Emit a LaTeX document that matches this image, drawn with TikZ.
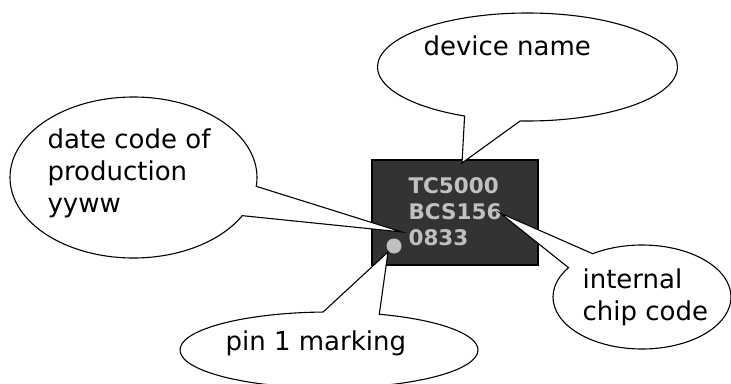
\documentclass[tikz,border=0pt]{standalone}
\usepackage{fontspec}
\setmainfont{DejaVu Sans}
\usetikzlibrary{shapes.callouts,positioning}

\definecolor{chipgray}{HTML}{333333}
\definecolor{markgray}{HTML}{C0C0C0}

\begin{document}
\begin{tikzpicture}[x=1pt, y=-1pt, line width=1.1pt,
    every node/.style={inner sep=0pt},
    bubble/.style={ellipse callout, draw, fill=white, callout pointer arc=22},
    bubbletext/.style={anchor=base west, font=\fontsize{26}{32}\selectfont, align=left},
    marking/.style={anchor=base west, text=markgray, font=\fontsize{21.5}{25.5}\selectfont\bfseries}]
    \useasboundingbox (0,0) rectangle (731,383);
    % chip body with its printed marking
    \node[draw, fill=chipgray, minimum width=166pt, minimum height=105pt] (chip) at (455,212.5) {};
    \node[circle, fill=markgray, minimum size=15pt] (dot) at (394,246) {};
    \node[marking] (devname) at (408,193) {TC5000};
    \node[marking] (chipcode) at (408,219) {BCS156};
    \node[marking] (datecode) at (408,245) {0833};
    % callouts
    \coordinate (devtip) at (462,163);
    \coordinate (datetip) at (402,232);
    \coordinate (pintip) at (388,252);
    \coordinate (codetip) at (500,213);
    \node[bubble, minimum width=300pt, minimum height=108pt, callout absolute pointer={(devtip)}] (devbubble) at (527.5,67) {};
    \node[bubble, minimum width=247pt, minimum height=161pt, callout absolute pointer={(datetip)}] (datebubble) at (133.5,177.5) {};
    \node[bubble, minimum width=298pt, minimum height=76pt, callout absolute pointer={(pintip)}] (pinbubble) at (329,350) {};
    \node[bubble, minimum width=178pt, minimum height=104pt, callout absolute pointer={(codetip)}] (codebubble) at (642,297) {};
    \node[bubbletext] (devtext) at (423,55) {device name};
    \node[bubbletext] (datetext) at (47,212) {date code of\\production\\yyww};
    \node[bubbletext] (pintext) at (225,350) {pin 1 marking};
    \node[bubbletext] (codetext) at (582,320) {internal\\chip code};
\end{tikzpicture}
\end{document}
